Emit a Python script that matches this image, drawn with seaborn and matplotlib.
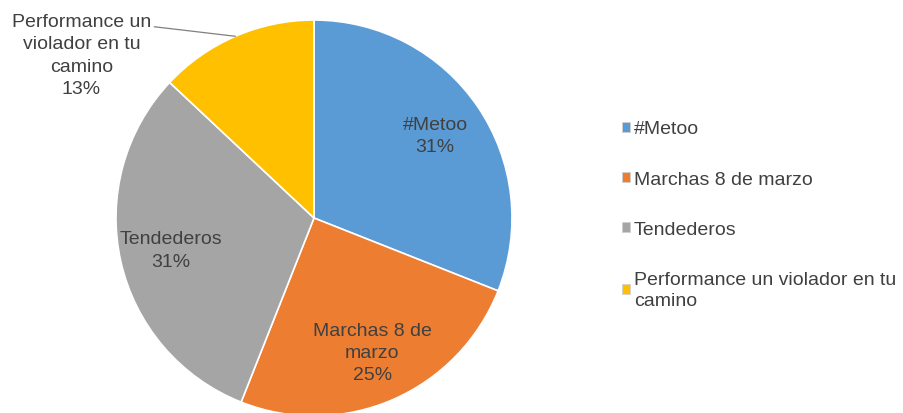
import matplotlib
matplotlib.use("Agg")
import matplotlib.pyplot as plt
import matplotlib.patches as mpatches
import numpy as np
import seaborn as sns

# data
labels = ["#Metoo", "Marchas 8 de marzo", "Tendederos", "Performance un violador en tu camino"]
values = [31, 25, 31, 13]
slice_text = ["#Metoo", "Marchas 8 de\nmarzo", "Tendederos", ""]
legend_text = ["#Metoo", "Marchas 8 de marzo", "Tendederos", "Performance un violador en tu\ncamino"]
colors = ["#5B9BD5", "#ED7D31", "#A5A5A5", "#FFC000"]

sns.set_theme(style="white")
plt.rcParams["font.family"] = ["Liberation Sans", "DejaVu Sans"]
text_color = "#404040"
fs = 14

fig = plt.figure(figsize=(9.04, 4.14), dpi=100)
ax = fig.add_axes([116 / 904, -3 / 414, 396 / 904, 396 / 414])

total = sum(values)
idx = iter(range(len(values)))


def fmt(pct):
    i = next(idx)
    if not slice_text[i]:
        return ""
    return f"{slice_text[i]}\n{pct:.0f}%"


wedges, texts, autotexts = ax.pie(
    values, colors=colors, startangle=90, counterclock=False,
    autopct=fmt, pctdistance=0.74, radius=1.0,
    wedgeprops=dict(edgecolor="white", linewidth=1.2),
    textprops=dict(color=text_color, fontsize=fs, ha="center", linespacing=1.42),
)

# outside label for the small slice
w = wedges[3]
mid = np.deg2rad((w.theta1 + w.theta2) / 2)
ax.annotate(
    f"Performance un\nviolador en tu\ncamino\n{values[3] / total * 100:.0f}%",
    xy=(np.cos(mid), np.sin(mid)), xytext=(-1.175, 0.823),
    ha="center", va="center", fontsize=fs, color=text_color, linespacing=1.42,
    arrowprops=dict(arrowstyle="-", color="#7f7f7f", lw=0.9, relpos=(1.0, 0.84),
                    shrinkA=0, shrinkB=0),
    annotation_clip=False,
)

ax.set_xlim(-1, 1)
ax.set_ylim(-1, 1)
ax.set_aspect("equal")
ax.axis("off")

handles = [mpatches.Patch(facecolor=c, edgecolor="#d0d0d0", linewidth=0.6) for c in colors]
leg = fig.legend(
    handles, legend_text, loc="upper left", bbox_to_anchor=(604 / 904, 1 - 104 / 414),
    frameon=False, fontsize=fs, handlelength=0.42, handleheight=0.42,
    handletextpad=0.22, labelspacing=1.7, labelcolor=text_color,
)
for t in leg.get_texts():
    t.set_linespacing(1.3)

fig.savefig("out.png", dpi=100, facecolor="white")
